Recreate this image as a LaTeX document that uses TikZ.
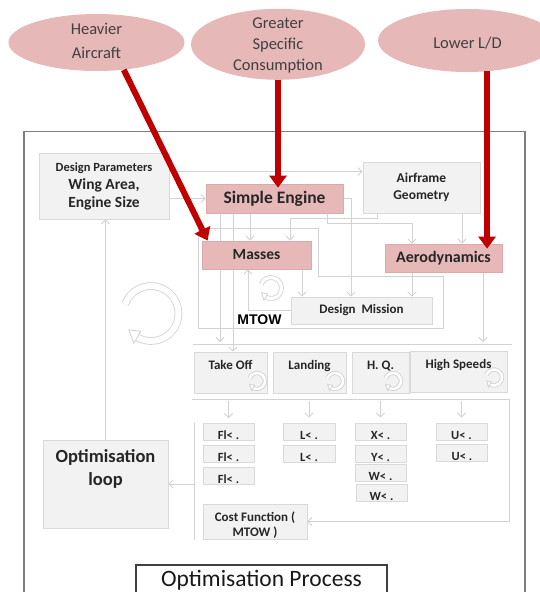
\documentclass[tikz,border=0pt]{standalone}
\usepackage{fontspec}
\setmainfont{Carlito}
\newfontfamily\arialfont{Liberation Sans}
\usetikzlibrary{arrows.meta,backgrounds,calc,shapes.geometric}
\definecolor{pinkf}{HTML}{E6B9B8}
\definecolor{pinkd}{HTML}{DDAAA9}
\definecolor{grayf}{HTML}{F2F2F2}
\definecolor{grayd}{HTML}{D9D9D9}
\definecolor{connc}{HTML}{D2D2D2}
\definecolor{redarr}{HTML}{C00000}
\definecolor{txtc}{HTML}{262626}
\definecolor{ellt}{HTML}{404040}
\definecolor{framec}{HTML}{7F7F7F}
\definecolor{iconc}{HTML}{D0D0D0}

\newcommand{\cycicon}[4]{%
  \pgfmathsetmacro\ciIn{#3-1.15*#4}%
  \pgfmathsetmacro\ciOut{#3+1.15*#4}%
  \pgfmathsetmacro\ciTip{120+1.9*#4/#3*57.3}%
  \draw[iconline, double distance=#4pt] ($(#1,#2)+(-160:#3)$) arc[start angle=-160, end angle=120, radius=#3];
  \filldraw[iconhead] ($(#1,#2)+(120:\ciIn)$) -- ($(#1,#2)+(\ciTip:#3)$) -- ($(#1,#2)+(120:\ciOut)$) -- cycle;
}

\begin{document}
\begin{tikzpicture}[x=1pt,y=-1pt,
  pinkbox/.style={rectangle, draw=pinkd, fill=pinkf, line width=0.8pt, inner sep=0pt, text=txtc, font=\bfseries},
  graybox/.style={rectangle, draw=grayd, fill=grayf, line width=0.8pt, inner sep=0pt, text=txtc, font=\bfseries},
  smallbox/.style={graybox, minimum width=51pt, minimum height=17pt, text height=15pt, text depth=0pt, font=\bfseries\fontsize{12.5}{14}\selectfont},
  phasebox/.style={graybox, minimum height=41pt, text height=10pt, text depth=17pt, font=\bfseries\fontsize{13}{15}\selectfont},
  boxtext/.style={inner sep=0pt, text=txtc, align=center},
  cause/.style={ellipse, fill=pinkf, draw=none, inner sep=0pt},
  causetext/.style={inner sep=0pt, text=ellt, align=center},
  redarrow/.style={draw=redarr, line width=6pt, -{Triangle[length=12pt,width=17pt]}},
  conn/.style={draw=connc, line width=0.9pt},
  connarr/.style={conn, -{Straight Barb[length=4pt,width=8pt]}},
  iconline/.style={draw=iconc, line width=0.8pt, double=white},
  iconhead/.style={draw=iconc, line width=0.8pt, fill=white},
]
\useasboundingbox (0,0) rectangle (540,592);
\clip (0,0) rectangle (540,592);

% outer frame
\draw[draw=framec, line width=1.5pt] (24,600) -- (24,131.5) -- (525,131.5) -- (525,600);

% cause ellipses
\node[cause, minimum width=176pt, minimum height=57pt] (heavy) at (96.5,42.5) {};
\node[causetext, font=\fontsize{16.5}{24}\selectfont] (heavyt) at (96.5,41) {Heavier\\Aircraft};
\node[cause, minimum width=174pt, minimum height=71pt] (greater) at (278,44.3) {};
\node[causetext, font=\fontsize{16.5}{21}\selectfont] (greatert) at (278,45.5) {Greater\\Specific\\Consumption};
\node[cause, minimum width=178pt, minimum height=63pt] (lower) at (467,40.5) {};
\node[causetext, font=\fontsize{16.5}{20}\selectfont] (lowert) at (467.5,43) {Lower L/D};

% main boxes
\node[graybox, minimum width=130pt, minimum height=66pt, align=center, font=\bfseries\fontsize{15.5}{18}\selectfont] (dp) at (104,186) {{\fontsize{12.5}{15}\selectfont Design Parameters}\\Wing Area,\\Engine Size};
\node[pinkbox, minimum width=137pt, minimum height=29pt, font=\bfseries\fontsize{17.5}{20}\selectfont] (eng) at (274.5,198.5) {Simple Engine};
\node[graybox, minimum width=117pt, minimum height=51pt, align=center, font=\bfseries\fontsize{13.5}{17}\selectfont] (air) at (421.5,187.5) {Airframe\\Geometry};
\node[pinkbox, minimum width=109pt, minimum height=28pt, font=\bfseries\fontsize{15.5}{18}\selectfont] (mas) at (256.5,255) {Masses};
\node[pinkbox, minimum width=117pt, minimum height=28pt, font=\bfseries\fontsize{16}{18}\selectfont] (aero) at (443.5,258) {Aerodynamics};
\node[graybox, minimum width=141pt, minimum height=27pt, font=\bfseries\fontsize{13}{15}\selectfont] (dm) at (361.5,310.5) {Design\ \ Mission};
\node[inner sep=0pt, font=\arialfont\bfseries\fontsize{14}{16}\selectfont] (mtow) at (259.5,319.5) {MTOW};

% phases
\node[phasebox, minimum width=73pt] (to) at (230.5,372.5) {Take Off};
\node[phasebox, minimum width=73pt] (land) at (309.5,372.5) {Landing};
\node[phasebox, minimum width=57pt] (hq) at (380.5,372.5) {H. Q.};
\node[phasebox, minimum width=97pt] (hs) at (458.5,371.5) {High Speeds};

% constraints
\node[smallbox] (fl1) at (228.5,432) {Fl< .};
\node[smallbox] (fl2) at (228.5,453.5) {Fl< .};
\node[smallbox] (fl3) at (228.5,475.5) {Fl< .};
\node[smallbox, minimum width=52pt] (l1) at (309,431.5) {L< .};
\node[smallbox, minimum width=52pt] (l2) at (309,454) {L< .};
\node[smallbox] (x1) at (380.5,431.5) {X< .};
\node[smallbox] (y1) at (380.5,453.5) {Y< .};
\node[smallbox] (w1) at (380.5,473) {W< .};
\node[smallbox] (w2) at (381.5,493) {W< .};
\node[smallbox] (u1) at (461.5,431.5) {U< .};
\node[smallbox] (u2) at (462,452.5) {U< .};

% cost, loop, process
\node[graybox, minimum width=104pt, minimum height=35pt] (cost) at (255,521.5) {};
\node[boxtext, font=\bfseries\fontsize{13}{15}\selectfont] (costt) at (255,525.5) {Cost Function (\\MTOW )};
\node[graybox, minimum width=125pt, minimum height=88pt] (opt) at (105.5,484) {};
\node[boxtext, font=\bfseries\fontsize{18.5}{23}\selectfont] (optt) at (105.5,468.5) {Optimisation\\loop};
\node[rectangle, draw=black!75, fill=white, line width=1.2pt, minimum width=251pt, minimum height=50pt, inner sep=0pt, text height=15pt, text depth=23pt, font=\fontsize{23.5}{28}\selectfont, text=black!90] (proc) at (261.5,590) {Optimisation Process};

% red arrows
\draw[redarrow] (heavy.-45) -- ($(mas.north west)+(6,0)$);
\draw[redarrow] (greater.south) -- ($(greater.south |- eng.north)+(0,4)$);
\draw[redarrow] (lower.-57) -- ($(aero.north -| lower.-57)+(0,5)$);

% icons
\cycicon{151}{313.5}{27.5}{6}
\cycicon{271}{288}{10.5}{3.2}
\cycicon{257}{381}{8}{2.6}
\cycicon{335}{381}{8}{2.6}
\cycicon{393}{381}{8}{2.6}
\cycicon{494}{377.5}{8}{2.6}

% light connectors
\begin{scope}[on background layer]
  \coordinate (dpA) at ($(dp.north east)+(0,19)$);
  \draw[connarr] (dpA) -- (dpA -| air.west);
  \draw[connarr] (dp.east |- eng.west) -- (eng.west);
  \draw[connarr] (opt.north) -- (opt.north |- dp.south);
  \draw[connarr] (eng.south -| 250,0) -- (mas.north -| 250,0);
  \draw[connarr] (air.south -| 377,0) |- (290,218) -- (mas.north -| 290,0);
  \draw[connarr] (eng.south -| 327,0) |- (412,223) -- (aero.north -| 412,0);
  \draw[connarr] (air.south -| 462,0) -- (aero.north -| 462,0);
  \draw[connarr] (eng.east) -| (dm.north -| 351,0);
  \draw[conn] (198,228) -- (318,228) -- (318,276.5) -- (443,276.5) -- (443,328) -- (198,328) -- cycle;
  \draw[connarr] (mas.south -| 302,0) -- (dm.north -| 302,0);
  \draw[connarr] (aero.south -| 412,0) -- (dm.north -| 412,0);
  \draw[connarr] (dm.west) -| (mas.south -| 248,0);
  \draw[connarr] (eng.south -| 220,0) -- (220,342);
  \draw[connarr] (eng.south -| 233,0) -- (to.north -| 233,0);
  \draw[connarr] (aero.south -| 483,0) -- (483,342);
  \draw[conn] (193,344) -- (512,344);
  \draw[connarr] (192,399) -| (cost.east -| 509,0) -- (cost.east);
  \draw[connarr] (fl1.north |- 0,401) -- ($(fl1.north)+(0,-5)$);
  \draw[connarr] (l1.north |- 0,401) -- ($(l1.north)+(0,-5)$);
  \draw[connarr] (x1.north |- 0,401) -- ($(x1.north)+(0,-5)$);
  \draw[connarr] (u1.north |- 0,401) -- ($(u1.north)+(0,-5)$);
  \draw[conn] (194,423) -- (194,540);
  \draw[connarr] (opt.east -| 194,0) -- (opt.east);
\end{scope}
\end{tikzpicture}
\end{document}
